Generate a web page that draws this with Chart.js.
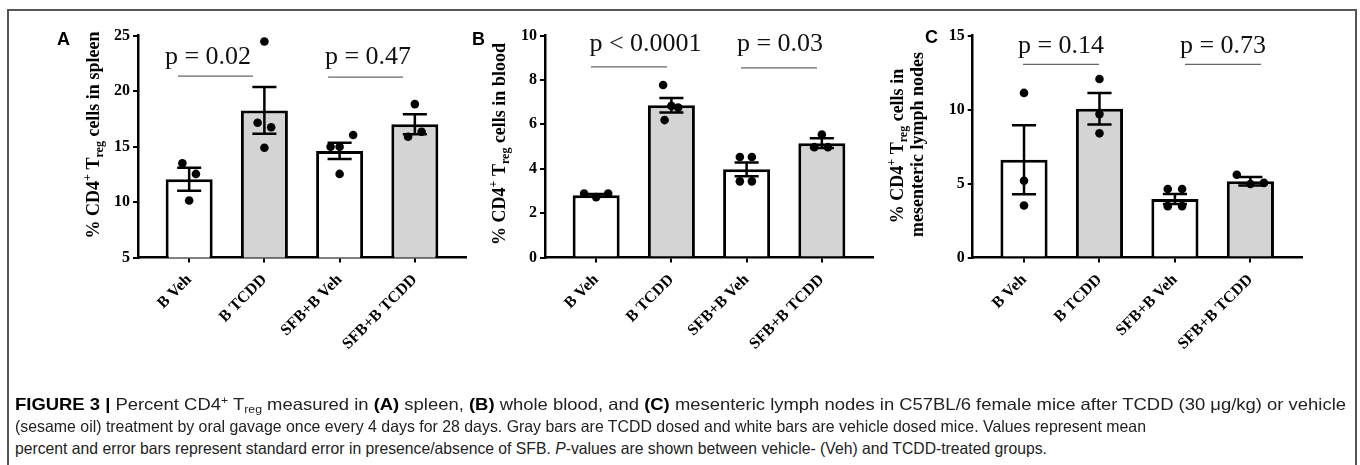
<!DOCTYPE html>
<html><head><meta charset="utf-8">
<script src="https://cdn.jsdelivr.net/npm/chart.js@4.4.1/dist/chart.umd.min.js"></script>
<style>
html,body{margin:0;padding:0;background:#fff;}
#wrap{position:relative;width:1360px;height:465px;overflow:hidden;background:#fff;}
#frame{position:absolute;left:7px;top:9px;width:1350px;height:470px;border:2px solid #555;box-sizing:border-box;}
canvas{position:absolute;top:0;}
.plabel{position:absolute;font:bold 18px "Liberation Sans",Arial,sans-serif;line-height:18px;color:#000;}
.cap{position:absolute;left:15px;white-space:nowrap;font:16.5px "Liberation Sans",Arial,sans-serif;line-height:16px;color:#222;transform-origin:0 0;}
.cap b{color:#000;}
.cap sup{font-size:11px;line-height:0;vertical-align:6px;}
.cap sub{font-size:11px;line-height:0;vertical-align:-3px;}
</style></head>
<body>
<div id="wrap">
  <div id="frame"></div>
  <canvas id="cA" width="470" height="400" style="left:20px;width:470px;height:400px"></canvas>
  <canvas id="cB" width="440" height="400" style="left:460px;width:440px;height:400px"></canvas>
  <canvas id="cC" width="470" height="400" style="left:870px;width:470px;height:400px"></canvas>
  <div class="plabel" style="left:57px;top:30px">A</div>
  <div class="plabel" style="left:472px;top:30px">B</div>
  <div class="plabel" style="left:925px;top:28px">C</div>
  <div class="cap" id="cap1" data-w="1331" style="top:396px"><b>FIGURE 3 |</b> Percent CD4<sup>+</sup> T<sub>reg</sub> measured in <b>(A)</b> spleen, <b>(B)</b> whole blood, and <b>(C)</b> mesenteric lymph nodes in C57BL/6 female mice after TCDD (30 μg/kg) or vehicle</div>
  <div class="cap" id="cap2" data-w="1131" style="top:418px">(sesame oil) treatment by oral gavage once every 4 days for 28 days. Gray bars are TCDD dosed and white bars are vehicle dosed mice. Values represent mean</div>
  <div class="cap" id="cap3" data-w="1032" style="top:440px">percent and error bars represent standard error in presence/absence of SFB. <i>P</i>-values are shown between vehicle- (Veh) and TCDD-treated groups.</div>
</div>
<script>
// ---------- data ----------
const categories = ['B Veh', 'B TCDD', 'SFB+B Veh', 'SFB+B TCDD'];
const barFills = ['#ffffff', '#d4d4d4', '#ffffff', '#d4d4d4'];

// Panel A: spleen
const spleenMean = [12.05, 18.25, 14.6, 17.0];
const spleenSem = [1.03, 2.1, 0.73, 0.9];
const spleenPoints = [[13.49, 12.53, 10.13], [24.46, 17.14, 16.73, 14.89], [16.03, 14.98, 14.98, 12.53], [18.82, 15.88, 16.33]];
const spleenJitter = [[-0.09, 0.09, 0], [0, -0.09, 0.09, 0], [0.18, -0.12, 0, 0], [0, -0.09, 0.09]];
const spleenTicks = [5, 10, 15, 20, 25];
const spleenP = ['p = 0.02', 'p = 0.47'];

// Panel B: blood
const bloodMean = [2.8, 6.86, 3.97, 5.15];
const bloodSem = [0.06, 0.33, 0.31, 0.22];
const bloodPoints = [[2.88, 2.72, 2.88], [7.77, 6.83, 6.75, 6.19], [4.53, 4.53, 3.43, 3.43], [5.54, 4.97, 4.97]];
const bloodJitter = [[-0.16, 0, 0.16], [-0.11, 0, 0.09, -0.09], [-0.09, 0.07, -0.09, 0.07], [0, -0.1, 0.08]];
const bloodTicks = [0, 2, 4, 6, 8, 10];
const bloodP = ['p < 0.0001', 'p = 0.03'];

// Panel C: mesenteric lymph nodes
const mlnMean = [6.6, 10.05, 3.95, 5.15];
const mlnSem = [2.33, 1.07, 0.34, 0.29];
const mlnPoints = [[11.12, 5.19, 3.51], [12.06, 9.69, 8.39], [4.63, 4.63, 3.47, 3.47], [5.59, 4.97, 5.04]];
const mlnJitter = [[0, 0, 0], [0, 0, 0], [-0.095, 0.095, -0.095, 0.095], [-0.18, 0, 0.18]];
const mlnTicks = [0, 5, 10, 15];
const mlnP = ['p = 0.14', 'p = 0.73'];

// ---------- layout ----------
const SERIF = '"Liberation Serif", "Times New Roman", serif';
const panels = [
  { id: 'cA', mean: spleenMean, sem: spleenSem, pts: spleenPoints, jit: spleenJitter, ticks: spleenTicks, pv: spleenP,
    padL: 58, padR: 24,
    ann: [{ from: -0.148, to: 0.849, lineY: 21.34, tx: 0.25, ty: 22.46 }, { from: 1.846, to: 2.843, lineY: 21.25, tx: 2.377, ty: 22.46 }],
    title: [{ dx: -45, cy: 135, runs: [['% CD4', ''], ['+', 'sup'], [' T', ''], ['reg', 'sub'], [' cells in spleen', '']] }] },
  { id: 'cB', mean: bloodMean, sem: bloodSem, pts: bloodPoints, jit: bloodJitter, ticks: bloodTicks, pv: bloodP,
    padL: 25, padR: 27,
    ann: [{ from: -0.069, to: 0.942, lineY: 8.59, tx: 0.656, ty: 9.31 }, { from: 1.925, to: 2.936, lineY: 8.54, tx: 2.444, ty: 9.31 }],
    title: [{ dx: -46, cy: 144, runs: [['% CD4', ''], ['+', 'sup'], [' T', ''], ['reg', 'sub'], [' cells in blood', '']] }] },
  { id: 'cC', mean: mlnMean, sem: mlnSem, pts: mlnPoints, jit: mlnJitter, ticks: mlnTicks, pv: mlnP,
    padL: 42.7, padR: 38.3,
    ann: [{ from: -0.013, to: 0.994, lineY: 13.05, tx: 0.49, ty: 13.79 }, { from: 2.133, to: 3.14, lineY: 13.05, tx: 2.637, ty: 13.79 }],
    title: [{ dx: -76, cy: 146, runs: [['% CD4', ''], ['+', 'sup'], [' T', ''], ['reg', 'sub'], [' cells in', '']] },
            { dx: -56, cy: 144.5, runs: [['mesenteric lymph nodes', '']] }] }
];

function drawRich(ctx, runs, cx, cy, size) {
  ctx.save();
  ctx.translate(cx, cy);
  ctx.rotate(-Math.PI / 2);
  const main = 'bold ' + size + 'px ' + SERIF;
  const small = 'bold ' + Math.round(size * 0.66) + 'px ' + SERIF;
  let total = 0;
  const ws = runs.map(r => { ctx.font = r[1] ? small : main; const w = ctx.measureText(r[0]).width; total += w; return w; });
  let x = -total / 2;
  ctx.textAlign = 'left';
  ctx.textBaseline = 'alphabetic';
  ctx.fillStyle = '#000';
  const base = size * 0.33;
  runs.forEach((r, i) => {
    ctx.font = r[1] ? small : main;
    const dy = r[1] === 'sup' ? -size * 0.42 : (r[1] === 'sub' ? size * 0.22 : 0);
    ctx.fillText(r[0], x, base + dy);
    x += ws[i];
  });
  ctx.restore();
}

function makePanel(p) {
  const yMin = p.ticks[0], yMax = p.ticks[p.ticks.length - 1];
  const step = p.ticks[1] - p.ticks[0];
  const points = [];
  p.pts.forEach((arr, i) => arr.forEach((v, k) => points.push({ x: i + p.jit[i][k], y: v })));
  const extras = {
    id: 'extras',
    afterDatasetDraw(chart, args) {
      if (args.index !== 1) return;
      const ctx = chart.ctx, xs = chart.scales.x, ys = chart.scales.y;
      const half = xs.getPixelForValue(0.16) - xs.getPixelForValue(0);
      ctx.save();
      ctx.strokeStyle = '#000';
      ctx.lineWidth = 2.5;
      p.mean.forEach((m, i) => {
        const x = xs.getPixelForValue(i);
        const yt = ys.getPixelForValue(m + p.sem[i]);
        const yb = ys.getPixelForValue(m - p.sem[i]);
        ctx.beginPath();
        ctx.moveTo(x, yt); ctx.lineTo(x, yb);
        ctx.moveTo(x - half, yt); ctx.lineTo(x + half, yt);
        ctx.moveTo(x - half, yb); ctx.lineTo(x + half, yb);
        ctx.stroke();
      });
      ctx.restore();
    },
    afterDraw(chart) {
      const ctx = chart.ctx, xs = chart.scales.x, ys = chart.scales.y;
      ctx.save();
      p.ann.forEach((a, k) => {
        ctx.strokeStyle = '#666';
        ctx.lineWidth = 1.2;
        ctx.beginPath();
        const yl = ys.getPixelForValue(a.lineY);
        ctx.moveTo(xs.getPixelForValue(a.from), yl);
        ctx.lineTo(xs.getPixelForValue(a.to), yl);
        ctx.stroke();
        ctx.fillStyle = '#111';
        ctx.font = '26px ' + SERIF;
        ctx.textAlign = 'center';
        ctx.textBaseline = 'alphabetic';
        ctx.fillText(p.pv[k], xs.getPixelForValue(a.tx), ys.getPixelForValue(a.ty));
      });
      p.title.forEach(t => drawRich(ctx, t.runs, chart.chartArea.left + t.dx, t.cy, 18));
      ctx.restore();
    }
  };
  new Chart(document.getElementById(p.id), {
    type: 'bar',
    data: {
      datasets: [
        { type: 'scatter', data: points, pointRadius: 4.3, pointBackgroundColor: '#000', pointBorderWidth: 0, order: 0 },
        { type: 'bar', data: p.mean.map((m, i) => ({ x: i, y: m })), backgroundColor: barFills, borderColor: '#000',
          borderWidth: 3, borderSkipped: 'start', barPercentage: 0.625, categoryPercentage: 1, order: 1 }
      ]
    },
    options: {
      responsive: false, animation: false, devicePixelRatio: 1, events: [],
      layout: { padding: { left: p.padL, right: p.padR, top: 35.5, bottom: 0 } },
      plugins: { legend: { display: false }, tooltip: { enabled: false } },
      scales: {
        x: {
          type: 'linear', min: -0.68, max: 3.68, bounds: 'data', offset: false,
          afterBuildTicks: s => { s.ticks = categories.map((c, i) => ({ value: i })); },
          afterFit: s => { s.height = 142.5; },
          grid: { display: true, offset: false, drawOnChartArea: false, drawTicks: true, tickLength: 5, color: '#000', lineWidth: 2 },
          border: { display: true, color: '#000', width: 2.5 },
          ticks: { callback: v => categories[v], autoSkip: false, minRotation: 45, maxRotation: 45, padding: 8,
                   color: '#000', font: { family: SERIF, size: 16, weight: 'bold' } }
        },
        y: {
          type: 'linear', min: yMin, max: yMax,
          afterFit: s => { s.width = 60; },
          grid: { display: true, drawOnChartArea: false, drawTicks: true, tickLength: 5, color: '#000', lineWidth: 2 },
          border: { display: true, color: '#000', width: 2.5 },
          ticks: { stepSize: step, padding: 3, color: '#000', font: { family: SERIF, size: 16, weight: 'bold' } }
        }
      }
    },
    plugins: [extras]
  });
}
panels.forEach(makePanel);

// fit each caption line to its reference width
document.querySelectorAll('.cap').forEach(el => {
  const w = el.getBoundingClientRect().width;
  el.style.transform = 'scaleX(' + (parseFloat(el.dataset.w) / w) + ')';
});
</script>
</body></html>
